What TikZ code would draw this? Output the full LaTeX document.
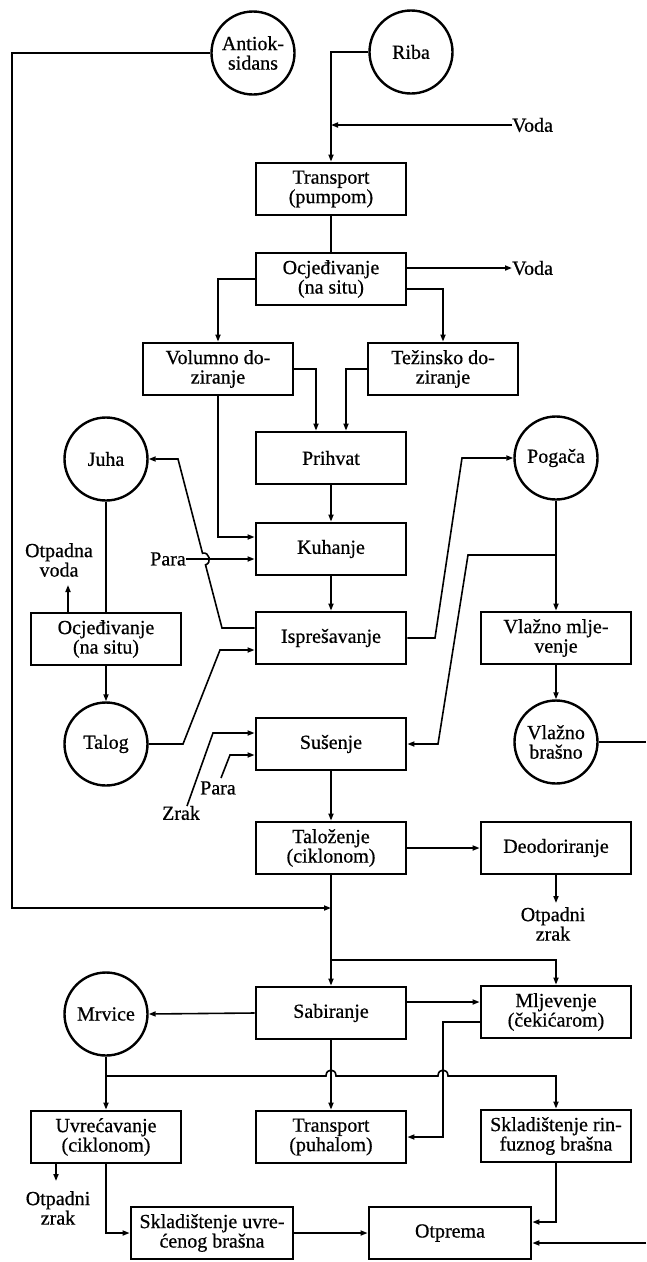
\documentclass[tikz,border=0pt]{standalone}
\usepackage{fontspec}
\setmainfont{Liberation Serif}[FakeBold=0.6]
\usetikzlibrary{arrows.meta}
\begin{document}
\begin{tikzpicture}[x=1pt,y=-1pt,
  txt/.style={font=\fontsize{20}{19.5}\selectfont},
  stage/.style={txt,draw,line width=2.8pt,minimum width=150pt,minimum height=52pt,inner sep=0pt,align=center},
  stream/.style={txt,draw,circle,line width=2.4pt,minimum size=83pt,inner sep=0pt,align=center},
  lbl/.style={txt,inner sep=0pt,align=center},
  flow/.style={line width=1.6pt},
  arr/.style={flow,-{Triangle[length=7pt,width=5pt]}},
]
\useasboundingbox (0,0) rectangle (646,1262);

% ---- process stages and streams ----
\node[stream] (anti) at (253,53) {Antiok-\\sidans};
\node[stream] (riba) at (411,52) {Riba};
\node[stage] (tp) at (331,189) {Transport\\(pumpom)};
\node[stage] (oc1) at (331,279) {Ocjeđivanje\\(na situ)};
\node[stage] (vol) at (218,369) {Volumno do-\\ziranje};
\node[stage] (tez) at (443,369) {Težinsko do-\\ziranje};
\node[stage] (pri) at (331,458) {Prihvat};
\node[stage] (kuh) at (331,549) {Kuhanje};
\node[stage] (isp) at (331,638) {Isprešavanje};
\node[stream] (juha) at (106,459) {Juha};
\node[stage] (oc2) at (106,639) {Ocjeđivanje\\(na situ)};
\node[stream] (talog) at (106,744) {Talog};
\node[stream] (pog) at (556,458) {Pogača};
\node[stage] (vmlj) at (556,638) {Vlažno mlje-\\venje};
\node[stream] (vbr) at (556,742) {Vlažno\\brašno};
\node[stage] (sus) at (331,744) {Sušenje};
\node[stage] (tal) at (331,848) {Taloženje\\(ciklonom)};
\node[stage] (deo) at (556,848) {Deodoriranje};
\node[stage] (sab) at (331,1013) {Sabiranje};
\node[stage] (mlj) at (556,1012) {Mljevenje\\(čekićarom)};
\node[stream] (mrv) at (106,1014) {Mrvice};
\node[stage] (uvr) at (106,1137) {Uvrećavanje\\(ciklonom)};
\node[stage] (tpu) at (331,1137) {Transport\\(puhalom)};
\node[stage] (skr) at (556,1136) {Skladištenje rin-\\fuznog brašna};
\node[stage,minimum width=162pt] (sku) at (212,1233) {Skladištenje uvre-\\ćenog brašna};
\node[stage,minimum width=162pt] (otp) at (450,1233) {Otprema};

% ---- inputs and outputs ----
\node[lbl,anchor=west] (voda1) at (512,125) {Voda};
\node[lbl,anchor=west] (voda2) at (512,268) {Voda};
\node[lbl,anchor=east] (para1) at (186,559) {Para};
\node[lbl] (otv) at (59,560) {Otpadna\\voda};
\node[lbl] (zrak) at (181,813) {Zrak};
\node[lbl] (para2) at (218,788) {Para};
\node[lbl] (ozd) at (553,924) {Otpadni\\zrak};
\node[lbl] (ozu) at (58,1208) {Otpadni\\zrak};

% ---- junction points and free ends ----
\coordinate (jr) at (331,52);
\coordinate (jv) at (331,125);
\coordinate (ij1) at (222,628);
\coordinate (ij2) at (178,459);
\coordinate (tj1) at (183,744);
\coordinate (tj2) at (220,650);
\coordinate (pj1) at (435,638);
\coordinate (pj2) at (462,458);
\coordinate (pj) at (556,555);
\coordinate (pk1) at (468,555);
\coordinate (pk2) at (438,744);
\coordinate (eR1) at (646,742);
\coordinate (z0) at (187,806);
\coordinate (z1) at (213,733);
\coordinate (p0) at (221,778);
\coordinate (p1) at (230,755);
\coordinate (a1) at (12,53);
\coordinate (a2) at (12,908);
\coordinate (ja) at (331,908);
\coordinate (jm) at (331,960);
\coordinate (mt) at (443,1137);
\coordinate (jmr) at (106,1076);
\coordinate (eR2) at (646,1243);
\coordinate (ovEnd) at (68,585);
\coordinate (odEnd) at (556,903);
\coordinate (ouEnd) at (56,1181);

% ---- flows ----
\draw[arr] (riba.west) -- (jr) -- (tp.north);
\draw[arr] (voda1.west) -- (jv);
\draw[flow] (tp.south) -- (oc1.north);
\draw[arr] ([yshift=11pt]oc1.east) -- (voda2.west);
\draw[arr] (oc1.west) -| (vol.north);
\draw[arr] ([yshift=-10pt]oc1.east) -| (tez.north);
\draw[arr] (vol.east) -| ([xshift=-15pt]pri.north);
\draw[arr] (tez.west) -| ([xshift=15pt]pri.north);
\draw[arr] (pri.south) -- (kuh.north);
\draw[arr] (vol.south) |- ([yshift=12pt]kuh.west);
\draw[arr] (para1.east) -- ([yshift=-10pt]kuh.west);
\draw[arr] (kuh.south) -- (isp.north);
% press liquor to Juha, hopping over the steam line
\draw[arr] ([yshift=10pt]isp.west) -- (ij1) -- (205.5,564.8)
  .. controls (212.3,563) and (209.3,551.4) .. (202.5,553.2) -- (ij2) -- (juha.east);
\draw[flow] (juha.south) -- (oc2.north);
\draw[arr] (oc2.north -| ovEnd) -- (ovEnd);
\draw[arr] (oc2.south) -- (talog.north);
\draw[arr] (talog.east) -- (tj1) -- (tj2) -- ([yshift=-12pt]isp.west);
\draw[arr] (isp.east) -- (pj1) -- (pj2) -- (pog.west);
\draw[arr] (pog.south) -- (vmlj.north);
\draw[arr] (pj) -- (pk1) -- (pk2) -- (sus.east);
\draw[arr] (vmlj.south) -- (vbr.north);
\draw[flow] (vbr.east) -- (eR1);
\draw[arr] (z0) -- (z1) -- ([yshift=11pt]sus.west);
\draw[arr] (p0) -- (p1) -- ([yshift=-11pt]sus.west);
\draw[arr] (sus.south) -- (tal.north);
\draw[arr] (tal.east) -- (deo.west);
\draw[arr] (deo.south) -- (odEnd);
\draw[arr] (anti.west) -- (a1) -- (a2) -- (ja);
\draw[arr] (tal.south) -- (sab.north);
\draw[arr] (jm) -| (mlj.north);
\draw[arr] ([yshift=11pt]sab.east) -- ([yshift=11pt]sab.east -| mlj.west);
\draw[arr] ([yshift=-10pt]mlj.west) -| (mt) -- (tpu.east);
\draw[arr] (sab.west) -- (mrv.east);
\draw[arr] (mrv.south) -- (uvr.north);
% crumbs line hopping over two vertical flows
\draw[arr] (jmr) -- (326,1076) .. controls (326,1068) and (336,1068) .. (336,1076)
  -- (438,1076) .. controls (438,1068) and (448,1068) .. (448,1076) -- (556,1076) -- (skr.north);
\draw[arr] (sab.south) -- (tpu.north);
\draw[arr] (uvr.south -| ouEnd) -- (ouEnd);
\draw[arr] (uvr.south) |- (sku.west);
\draw[arr] (sku.east) -- (otp.west);
\draw[arr] (skr.south) |- ([yshift=11pt]otp.east);
\draw[arr] (eR2) -- ([yshift=-10pt]otp.east);
\end{tikzpicture}
\end{document}
